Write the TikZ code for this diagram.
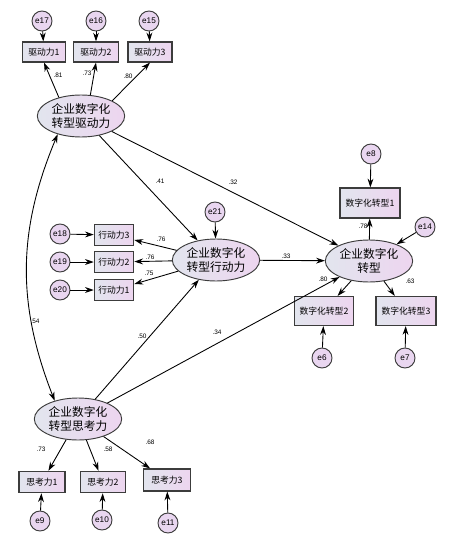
\documentclass[tikz,border=0pt]{standalone}
\usepackage{fontspec}
\setmainfont{Liberation Sans}
\newfontfamily\cjk{Noto Sans CJK SC}
\usetikzlibrary{shapes.geometric,arrows.meta}
\definecolor{fillleft}{HTML}{E2E5EE}
\definecolor{fillright}{HTML}{EDD5EF}
\definecolor{errfill}{HTML}{E9D6F0}
\definecolor{edgegray}{HTML}{3C3C3C}
\begin{document}
\begin{tikzpicture}[
  x=0.03cm, y=-0.03cm,
  obs/.style={draw=edgegray, line width=1pt, left color=fillleft, right color=fillright, inner sep=0pt, font=\cjk\fontsize{7.5}{8}\selectfont},
  latent/.style={ellipse, draw=edgegray, line width=0.8pt, left color=fillleft, right color=fillright, inner sep=0pt, minimum width=2.62cm, minimum height=1.26cm, align=center, font=\cjk\fontsize{10}{12}\selectfont},
  err/.style={circle, draw=edgegray, line width=0.8pt, fill=errfill, inner sep=0pt, minimum size=0.6cm, font=\fontsize{7}{8}\selectfont},
  coef/.style={inner sep=0pt, font=\fontsize{5.5}{6}\selectfont},
  flow/.style={->, line width=0.75pt, draw=black},
  cov/.style={<->, line width=0.75pt, draw=black},
  >={Stealth[length=7.5pt,width=5pt]}
]
  \useasboundingbox (0,0) rectangle (456,537);

  % latent variables
  \node[latent] (drive) at (81,116) {企业数字化\\转型驱动力};
  \node[latent] (act) at (216,260) {企业数字化\\转型行动力};
  \node[latent] (think) at (78,419) {企业数字化\\转型思考力};
  \node[latent] (trans) at (369,261) {企业数字化\\转型};

  % driving force indicators
  \node[obs, minimum width=1.29cm, minimum height=0.6cm] (d1) at (44,52) {驱动力1};
  \node[obs, minimum width=1.35cm, minimum height=0.6cm] (d2) at (96,52) {驱动力2};
  \node[obs, minimum width=1.32cm, minimum height=0.6cm] (d3) at (150,52) {驱动力3};
  \node[err] (e17) at (42,21) {e17};
  \node[err] (e16) at (96,21) {e16};
  \node[err] (e15) at (149,21) {e15};

  % action indicators
  \node[obs, minimum width=1.18cm, minimum height=0.64cm] (a3) at (114,235) {行动力3};
  \node[obs, minimum width=1.18cm, minimum height=0.64cm] (a2) at (114,262) {行动力2};
  \node[obs, minimum width=1.18cm, minimum height=0.64cm] (a1) at (114,290) {行动力1};
  \node[err] (e18) at (60,234) {e18};
  \node[err] (e19) at (60,262) {e19};
  \node[err] (e20) at (60,290) {e20};
  \node[err] (e21) at (215,212) {e21};

  % thinking indicators
  \node[obs, minimum width=1.38cm, minimum height=0.64cm] (t1) at (42,482) {思考力1};
  \node[obs, minimum width=1.35cm, minimum height=0.64cm] (t2) at (103,482) {思考力2};
  \node[obs, minimum width=1.41cm, minimum height=0.66cm] (t3) at (167,480) {思考力3};
  \node[err] (e9) at (40,521) {e9};
  \node[err] (e10) at (102,520) {e10};
  \node[err] (e11) at (168,523) {e11};

  % transformation indicators
  \node[obs, minimum width=1.8cm, minimum height=0.9cm] (s1) at (370,203) {数字化转型1};
  \node[obs, minimum width=1.77cm, minimum height=0.87cm] (s2) at (324,311) {数字化转型2};
  \node[obs, minimum width=1.8cm, minimum height=0.87cm] (s3) at (406,311) {数字化转型3};
  \node[err] (e8) at (371,154) {e8};
  \node[err] (e14) at (425,227) {e14};
  \node[err] (e6) at (322,358) {e6};
  \node[err] (e7) at (405,358) {e7};

  % error terms
  \foreach \e/\o in {e17/d1, e16/d2, e15/d3, e18/a3, e19/a2, e20/a1, e9/t1, e10/t2, e11/t3, e8/s1, e6/s2, e7/s3, e21/act, e14/trans}
    \draw[flow] (\e) -- (\o);

  % loadings
  \draw[flow] (drive.140) -- (d1.south);
  \draw[flow] (drive.66) -- (d2.south);
  \draw[flow] (drive.26) -- (d3.south);
  \foreach \o in {a1, a2, a3} \draw[flow] (act) -- (\o);
  \foreach \o in {t1, t2, t3} \draw[flow] (think) -- (\o);
  \foreach \o in {s1, s2, s3} \draw[flow] (trans) -- (\o);

  % structural paths
  \draw[flow] (drive) -- (act);
  \draw[flow] (drive) -- (trans);
  \draw[flow] (act) -- (trans);
  \draw[flow] (think) -- (act);
  \draw[flow] (think) -- (trans);
  \draw[cov] (drive.218) to[bend right=22] (think.142);

  % coefficients
  \node[coef] (c81) at (58,75) {.81};
  \node[coef] (c73d) at (87,73) {.73};
  \node[coef] (c80d) at (128,76) {.80};
  \node[coef] (c41) at (160,181) {.41};
  \node[coef] (c32) at (233,182) {.32};
  \node[coef] (c76a) at (161,239) {.76};
  \node[coef] (c76b) at (150,257) {.76};
  \node[coef] (c75) at (149,273) {.75};
  \node[coef] (c33) at (286,256) {.33};
  \node[coef] (c54) at (35,321) {.54};
  \node[coef] (c50) at (142,336) {.50};
  \node[coef] (c34) at (217,332) {.34};
  \node[coef] (c78) at (363,226) {.78};
  \node[coef] (c80s) at (323,279) {.80};
  \node[coef] (c63) at (410,281) {.63};
  \node[coef] (c73t) at (41,449) {.73};
  \node[coef] (c58) at (108,449) {.58};
  \node[coef] (c68) at (150,442) {.68};
\end{tikzpicture}
\end{document}
